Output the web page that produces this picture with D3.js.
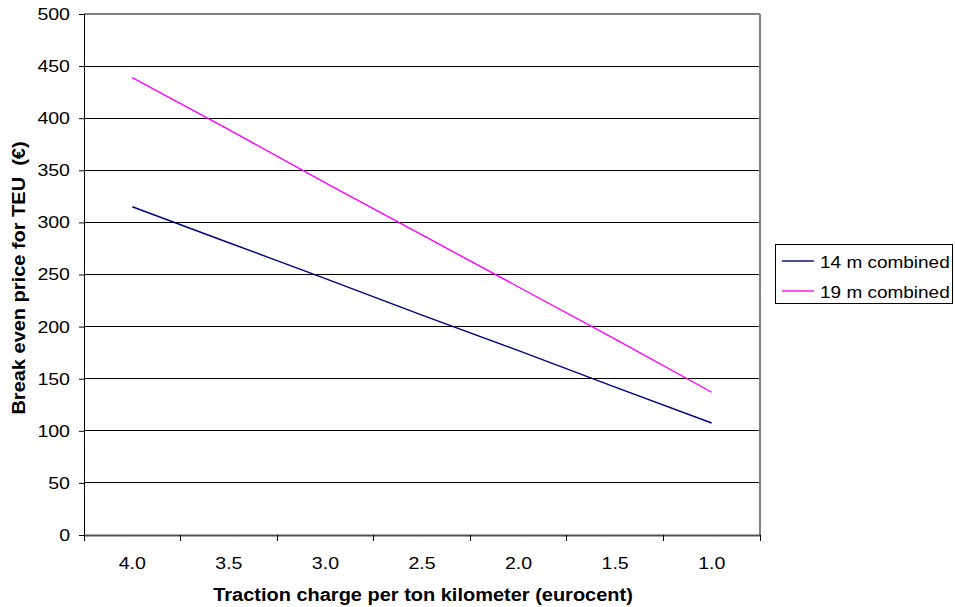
<!DOCTYPE html>
<html><head><meta charset="utf-8">
<script src="https://cdn.jsdelivr.net/npm/d3@7"></script>
<style>body{margin:0;background:#fff;} text{font-family:Arial,"Liberation Sans",sans-serif;}</style>
</head><body><svg id="c" width="955" height="607"></svg>
<script>
const categories = ["4.0","3.5","3.0","2.5","2.0","1.5","1.0"];
const series14 = [315, 280.5, 246, 211, 177, 142, 107.5];
const series19 = [439, 389, 338, 288, 238, 188, 137];
const yTicks = [0,50,100,150,200,250,300,350,400,450,500];
const seriesNames = ["14 m combined","19 m combined"];
const colors = ["#000080","#FF00FF"];

const FONT = "Arial, 'Liberation Sans', sans-serif";
const svg = d3.select("#c");
const L=84, R=760, T=14, B=535;
const x = d3.scaleBand().domain(categories).range([L,R]);
const y = d3.scaleLinear().domain([0,500]).range([B,T]);

// gridlines
svg.append("g").selectAll("line").data(yTicks.filter(d=>d>0)).join("line")
  .attr("x1",L).attr("x2",R).attr("y1",d=>y(d)).attr("y2",d=>y(d))
  .attr("stroke", d=>d===500?"#808080":"#000").attr("stroke-width",d=>d===500?1.5:1).attr("shape-rendering","crispEdges");
// right border
svg.append("line").attr("x1",R).attr("x2",R).attr("y1",T).attr("y2",B).attr("stroke","#808080").attr("stroke-width",1.5).attr("shape-rendering","crispEdges");

// y axis
const ya = svg.append("g").attr("transform",`translate(${L},0)`)
  .call(d3.axisLeft(y).tickValues(yTicks).tickSize(5).tickPadding(9));
ya.select(".domain").attr("stroke","#000");
ya.selectAll("text").attr("font-size",17).attr("fill","#000").attr("font-family",FONT).attr("class","stretch");
ya.selectAll("line").attr("stroke","#000");

// x axis
const xa = svg.append("g").attr("transform",`translate(0,${B})`)
  .call(d3.axisBottom(x).tickSize(0).tickPadding(22));
xa.select(".domain").attr("stroke","#505050").attr("stroke-width",2);
xa.selectAll("text").attr("font-size",17).attr("fill","#000").attr("font-family",FONT).attr("class","stretch");
const bounds = categories.map(c=>x(c)).concat([R]);
svg.append("g").selectAll("line").data(bounds).join("line")
  .attr("x1",d=>d).attr("x2",d=>d).attr("y1",B).attr("y2",B+6).attr("stroke","#000").attr("shape-rendering","crispEdges");

// lines
const line = d3.line().x((d,i)=>x(categories[i])+x.bandwidth()/2).y(d=>y(d));
[series14, series19].forEach((s,i)=>{
  svg.append("path").datum(s).attr("d",line).attr("fill","none").attr("stroke",colors[i]).attr("stroke-width",1.4);
});

// axis titles
svg.append("text").attr("x",423).attr("y",601).attr("text-anchor","middle")
  .attr("font-size",18).attr("font-weight","bold").attr("class","stretchT").text("Traction charge per ton kilometer (eurocent)");
svg.append("text").attr("transform",`translate(25,278) rotate(-90)`).attr("text-anchor","middle")
  .attr("font-size",18).attr("font-weight","bold").attr("xml:space","preserve").attr("class","stretchT").text("Break even price for TEU  (€)");

// legend
const lg = svg.append("g");
lg.append("rect").attr("x",775.5).attr("y",244.5).attr("width",177).attr("height",59).attr("fill","#fff").attr("stroke","#000");
seriesNames.forEach((n,i)=>{
  const yy = 261 + i*30;
  lg.append("line").attr("x1",782).attr("x2",814).attr("y1",yy).attr("y2",yy).attr("stroke",colors[i]).attr("stroke-width",1.4);
  lg.append("text").attr("x",820).attr("y",yy+7).attr("font-size",16.5).attr("class","stretch").text(n);
});

// horizontal stretch to mimic the reference's wide text rendering
svg.selectAll("text.stretch").each(function(){
  const len = this.getComputedTextLength();
  d3.select(this).attr("textLength", len*1.15).attr("lengthAdjust","spacingAndGlyphs");
});
svg.selectAll("text.stretchT").each(function(){
  const len = this.getComputedTextLength();
  d3.select(this).attr("textLength", len*1.11).attr("lengthAdjust","spacingAndGlyphs");
});
</script></body></html>
